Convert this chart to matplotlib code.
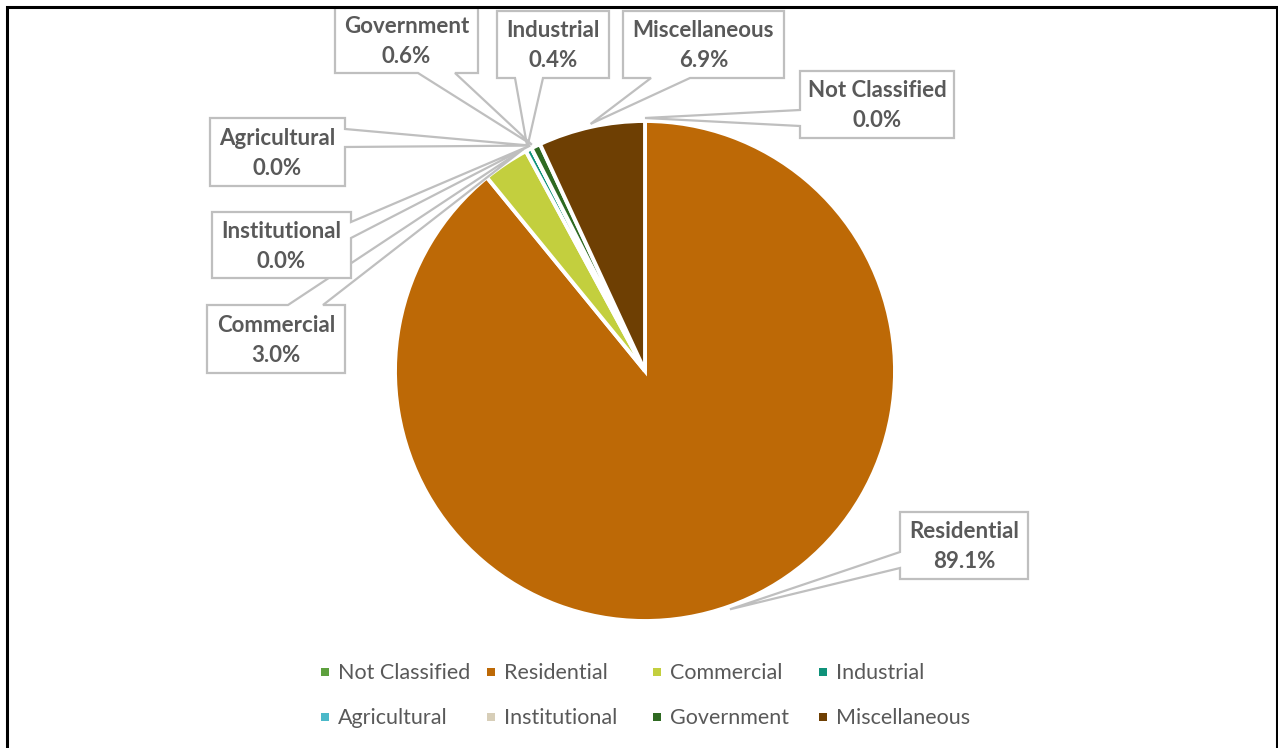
import matplotlib
matplotlib.use("Agg")
import matplotlib.pyplot as plt
from matplotlib.patches import Polygon, Rectangle
import numpy as np

# ---------------- data ----------------
categories = ["Not Classified", "Residential", "Commercial", "Industrial",
              "Agricultural", "Institutional", "Government", "Miscellaneous"]
shares = [0.0, 89.1, 3.0, 0.4, 0.0, 0.0, 0.6, 6.9]
colors = ["#5DA03E", "#BD6906", "#C3CF3E", "#0F927A",
          "#4BB9C9", "#D7CEB8", "#2F6A22", "#6E3F03"]

# ---------------- layout (pixel coords, y measured from top) ----------------
W, H = 1278, 748
plt.rcParams['font.family'] = ['Lato', 'DejaVu Sans']
TXT = "#595959"
GRAY = "#BFBFBF"

CX, CY, R = 645, 371, 250

# box: (x0, x1, ytop, ybot, side, base1, base2, anchor fraction within slice)
callouts = {
    "Not Classified": (800, 954, 71, 138, "left", 110, 126, 0.5),
    "Residential":    (900, 1028, 512, 579, "left", 552, 568, 0.5),
    "Commercial":     (207, 345, 305, 373, "top", 288, 323, 0.97),
    "Industrial":     (497, 609, 11, 78, "bottom", 515, 543, 0.5),
    "Agricultural":   (210, 345, 118, 186, "right", 129, 147, 0.5),
    "Institutional":  (212, 351, 212, 278, "right", 222, 238, 0.5),
    "Government":     (335, 478, 8, 73, "bottom", 418, 455, 0.2),
    "Miscellaneous":  (623, 784, 11, 78, "bottom", 651, 690, 0.5),
}

fig = plt.figure(figsize=(W / 100, H / 100), dpi=100)
ax = fig.add_axes([0, 0, 1, 1])


def Y(y):
    return H - y


wedges, _ = ax.pie(shares, colors=colors, startangle=90, counterclock=False,
                   center=(CX, Y(CY)), radius=R,
                   wedgeprops=dict(edgecolor="white", linewidth=2.8))
ax.set_xlim(0, W)
ax.set_ylim(0, H)
ax.set_aspect("auto")
ax.axis("off")

for name, val, w in zip(categories, shares, wedges):
    x0, x1, yt, yb, side, b1, b2, f = callouts[name]
    ang = np.deg2rad(w.theta2 - f * (w.theta2 - w.theta1))
    tx = CX + R * 1.012 * np.cos(ang)
    ty = Y(CY) + R * 1.012 * np.sin(ang)
    tip = (tx, H - ty)  # back to top-down pixel coords
    if side == "top":
        pts = [(x0, yt), (b1, yt), tip, (b2, yt), (x1, yt), (x1, yb), (x0, yb)]
    elif side == "right":
        pts = [(x0, yt), (x1, yt), (x1, b1), tip, (x1, b2), (x1, yb), (x0, yb)]
    elif side == "bottom":
        pts = [(x0, yt), (x1, yt), (x1, yb), (b2, yb), tip, (b1, yb), (x0, yb)]
    else:
        pts = [(x0, yt), (x1, yt), (x1, yb), (x0, yb), (x0, b2), tip, (x0, b1)]
    poly = Polygon([(px, Y(py)) for px, py in pts], closed=True,
                   facecolor="white", edgecolor=GRAY, linewidth=1.6, zorder=5)
    ax.add_patch(poly)
    xm = (x0 + x1) / 2
    ym = (yt + yb) / 2
    ax.text(xm, Y(ym - 14), name, ha="center", va="center", fontsize=16,
            fontweight="bold", color=TXT, zorder=6)
    ax.text(xm, Y(ym + 16), f"{val:.1f}%", ha="center", va="center", fontsize=16,
            fontweight="bold", color=TXT, zorder=6)

# legend (manual, 4 columns x 2 rows)
col_x = [325, 491, 657, 823]
row_y = [672, 717]
for i, (name, c) in enumerate(zip(categories, colors)):
    mx = col_x[i % 4]
    my = row_y[i // 4]
    ax.add_patch(Rectangle((mx - 4, Y(my) - 4), 8, 8, facecolor=c,
                           edgecolor="none", zorder=5))
    ax.text(mx + 13, Y(my + 1), name, ha="left", va="center", fontsize=15.5,
            color=TXT, zorder=6)

# outer border
ax.add_patch(Rectangle((7, -10), W - 8, Y(6.5) + 10, facecolor="none",
                       edgecolor="black", linewidth=2.2, clip_on=False, zorder=10))

fig.savefig("out.png", dpi=100)
